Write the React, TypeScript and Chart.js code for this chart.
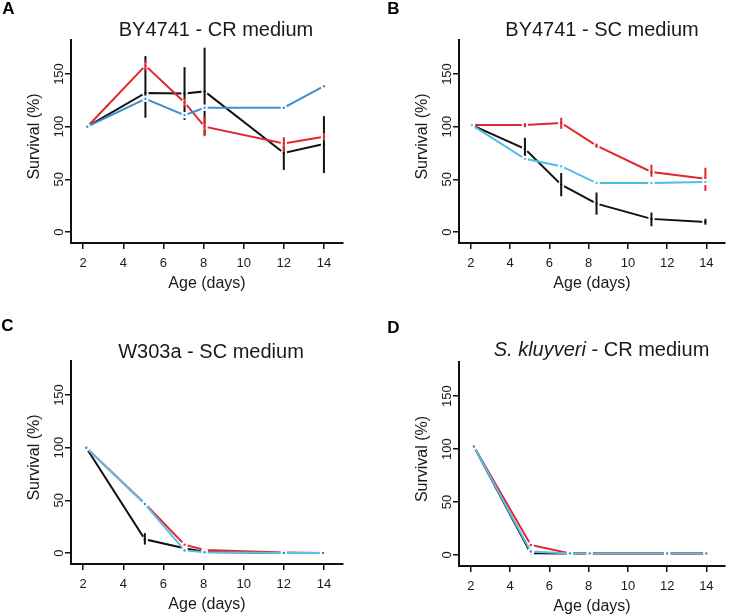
import React, { useEffect, useRef } from "react";
import { Chart, registerables } from "chart.js";

Chart.register(...registerables);

const FONT = '"Liberation Sans", Arial, Helvetica, sans-serif';
const TEXT = "#1a1a1a";
const AXIS = "#111111";

const xTickLabels = [2, 4, 6, 8, 10, 12, 14];
const yTickLabels = [0, 50, 100, 150];
const xTitle = "Age (days)";
const yTitle = "Survival (%)";

// Panel A - BY4741, CR medium
const ageA = [2.2, 5.1, 7.05, 8.05, 12, 14];
const redA = [100, 158, 123, 100, 84, 90.5];
const redLoA = [null, 153, 119, 91, 76, 87];
const redHiA = [null, 163, 127, 109.5, 90, 94];
const blackA = [100, 132, 131.5, 133.5, 75, 83.5];
const blackLoA = [null, 108.5, 106.5, 92, 59, 56];
const blackHiA = [null, 167, 156.5, 175, 87.5, 110];
const blueA = [100, 126.5, 111, 118, 118, 138.5];

// Panel B - BY4741, SC medium
const ageB = [2.05, 4.75, 6.6, 8.4, 11.2, 13.95];
const redB = [101.5, 101.5, 103.5, 82, 57, 50.5];
const redLoB = [null, 99.5, 98, 80, 52.5, 39];
const redHiB = [null, 103.5, 108.5, 84, 64, 61];
const blackB = [101.5, 79, 45, 27, 12.5, 9.5];
const blackLoB = [null, 68.5, 34, 16.5, 5.5, 7];
const blackHiB = [null, 89.5, 56, 37.5, 18.5, 12.5];
const blueB = [101.5, 69.5, 62.5, 46.5, 46.5, 47.5];

// Panel C - W303a, SC medium
const ageC = [2.15, 5.07, 7.05, 8.05, 12, 13.95];
const redC = [100, 47, 8, 3, 0.5, 0];
const blackC = [100, 13, 4.5, 1, 0, 0];
const blackLoC = [null, 8, null, null, null, null];
const blackHiC = [null, 19, null, null, null, null];
const blueC = [100, 46.5, 2.5, 0.8, 0, 0];

// Panel D - S. kluyveri, CR medium
const ageD = [2.15, 5.05, 7.05, 8.05, 12, 14];
const redD = [102.5, 9.5, 1.5, 1.5, 1.5, 1.5];
const blackD = [102.5, 1.6, 1.4, 1.5, 1.5, 1.5];
const blueD = [102.5, 3.3, 1.5, 1.5, 1.5, 1.5];

type Series = {
  y: number[];
  lo?: (number | null)[];
  hi?: (number | null)[];
  color: string;
  dot: string;
};

type PanelCfg = {
  left: number;
  top: number;
  w: number;
  h: number;
  area: { left: number; top: number; right: number; bottom: number };
  ages: number[];
  series: Series[]; // top-most first
  title: string;
  italic?: string;
  titleX: number;
  titleY: number;
  letter: string;
  letterX: number;
  letterY: number;
};

const RED = "#e1262d";
const BLACK = "#111111";
const BLUE_A = "#3d8fd0";
const BLUE_B = "#4dbde8";
const BLUE_CD = "#5bc0e8";
const BLUE_DOT = "#2d88c8";

const panels: PanelCfg[] = [
  {
    left: 0, top: 0, w: 365, h: 305,
    area: { left: 71, top: 40, right: 343, bottom: 243 },
    ages: ageA,
    series: [
      { y: blueA, color: BLUE_A, dot: BLUE_A },
      { y: redA, lo: redLoA, hi: redHiA, color: RED, dot: RED },
      { y: blackA, lo: blackLoA, hi: blackHiA, color: BLACK, dot: BLACK },
    ],
    title: "BY4741 - CR medium", titleX: 216, titleY: 30,
    letter: "A", letterX: 8.5, letterY: 9,
  },
  {
    left: 365, top: 0, w: 366, h: 305,
    area: { left: 94, top: 40, right: 366, bottom: 243 },
    ages: ageB,
    series: [
      { y: blueB, color: BLUE_B, dot: BLUE_B },
      { y: redB, lo: redLoB, hi: redHiB, color: RED, dot: RED },
      { y: blackB, lo: blackLoB, hi: blackHiB, color: BLACK, dot: BLACK },
    ],
    title: "BY4741 - SC medium", titleX: 237, titleY: 30,
    letter: "B", letterX: 28.5, letterY: 9,
  },
  {
    left: 0, top: 310, w: 365, h: 305,
    area: { left: 71, top: 51, right: 343, bottom: 254 },
    ages: ageC,
    series: [
      { y: blueC, color: BLUE_CD, dot: BLUE_DOT },
      { y: redC, color: RED, dot: RED },
      { y: blackC, lo: blackLoC, hi: blackHiC, color: BLACK, dot: BLACK },
    ],
    title: "W303a - SC medium", titleX: 211, titleY: 42,
    letter: "C", letterX: 7.5, letterY: 16.5,
  },
  {
    left: 365, top: 310, w: 366, h: 305,
    area: { left: 94, top: 52, right: 366, bottom: 256 },
    ages: ageD,
    series: [
      { y: blueD, color: BLUE_CD, dot: BLUE_DOT },
      { y: redD, color: RED, dot: RED },
      { y: blackD, color: BLACK, dot: BLACK },
    ],
    title: " - CR medium", italic: "S. kluyveri", titleX: 236.5, titleY: 40,
    letter: "D", letterX: 28.5, letterY: 18.5,
  },
];

function makeDecor(cfg: PanelCfg) {
  return {
    id: "panelDecor",
    afterDatasetDraw(chart: any, args: any) {
      const s = cfg.series[args.index];
      if (!s || !s.lo || !s.hi) return;
      const ctx = chart.ctx;
      const xs = chart.scales.x;
      const ys = chart.scales.y;
      ctx.save();
      ctx.strokeStyle = s.color;
      ctx.lineWidth = 2;
      ctx.lineCap = "butt";
      for (let i = 0; i < cfg.ages.length; i++) {
        const lo = s.lo[i];
        const hi = s.hi[i];
        if (lo == null || hi == null) continue;
        const px = xs.getPixelForValue(cfg.ages[i]);
        ctx.beginPath();
        ctx.moveTo(px, ys.getPixelForValue(lo));
        ctx.lineTo(px, ys.getPixelForValue(hi));
        ctx.stroke();
      }
      ctx.restore();
    },
    afterDraw(chart: any) {
      const ctx = chart.ctx;
      const a = chart.chartArea;
      const xs = chart.scales.x;
      const ys = chart.scales.y;
      ctx.save();
      ctx.fillStyle = TEXT;
      ctx.textBaseline = "middle";
      ctx.textAlign = "center";
      // x tick labels
      ctx.font = `13px ${FONT}`;
      xTickLabels.forEach((v) => {
        ctx.fillText(String(v), xs.getPixelForValue(v), a.bottom + 20);
      });
      // y tick labels (rotated)
      yTickLabels.forEach((v) => {
        ctx.save();
        ctx.translate(a.left - 12, ys.getPixelForValue(v));
        ctx.rotate(-Math.PI / 2);
        ctx.fillText(String(v), 0, 0);
        ctx.restore();
      });
      // axis titles
      ctx.font = `16px ${FONT}`;
      ctx.fillText(xTitle, (a.left + a.right) / 2, a.bottom + 41);
      ctx.save();
      ctx.translate(a.left - 36.5, (a.top + a.bottom) / 2 - 5);
      ctx.rotate(-Math.PI / 2);
      ctx.fillText(yTitle, 0, 0);
      ctx.restore();
      // title
      const tf = `20px ${FONT}`;
      const itf = `italic 20px ${FONT}`;
      if (cfg.italic) {
        ctx.font = itf;
        const w1 = ctx.measureText(cfg.italic).width;
        ctx.font = tf;
        const w2 = ctx.measureText(cfg.title).width;
        const x0 = cfg.titleX - (w1 + w2) / 2;
        ctx.textAlign = "left";
        ctx.font = itf;
        ctx.fillText(cfg.italic, x0, cfg.titleY);
        ctx.font = tf;
        ctx.fillText(cfg.title, x0 + w1, cfg.titleY);
        ctx.textAlign = "center";
      } else {
        ctx.font = tf;
        ctx.fillText(cfg.title, cfg.titleX, cfg.titleY);
      }
      // panel letter
      ctx.font = `bold 17px ${FONT}`;
      ctx.fillStyle = "#000";
      ctx.fillText(cfg.letter, cfg.letterX, cfg.letterY);
      ctx.restore();
    },
  };
}

function Panel({ cfg }: { cfg: PanelCfg }) {
  const ref = useRef<HTMLCanvasElement | null>(null);
  useEffect(() => {
    if (!ref.current) return;
    const chart = new Chart(ref.current, {
      type: "line",
      data: {
        datasets: cfg.series.map((s) => ({
          data: cfg.ages.map((x, i) => ({ x, y: s.y[i] })),
          borderColor: s.color,
          backgroundColor: s.dot,
          borderWidth: 2,
          pointRadius: 2.2,
          pointBorderWidth: 2,
          pointBorderColor: "#ffffff",
          pointBackgroundColor: s.dot,
          tension: 0,
          fill: false,
        })),
      },
      options: {
        animation: false,
        responsive: false,
        devicePixelRatio: 1,
        events: [],
        layout: {
          padding: {
            left: 0,
            top: cfg.area.top,
            right: cfg.w - cfg.area.right,
            bottom: 0,
          },
        },
        plugins: {
          legend: { display: false },
          title: { display: false },
          tooltip: { enabled: false },
        },
        scales: {
          x: {
            type: "linear",
            min: 1.39,
            max: 14.95,
            afterBuildTicks: (s: any) => {
              s.ticks = xTickLabels.map((v) => ({ value: v }));
            },
            afterFit: (s: any) => {
              s.height = cfg.h - cfg.area.bottom;
            },
            ticks: { display: false },
            grid: {
              drawOnChartArea: false,
              drawTicks: true,
              tickLength: 6,
              color: AXIS,
              lineWidth: 1.5,
            },
            border: { display: true, color: AXIS, width: 2 },
          },
          y: {
            type: "linear",
            min: -10.4,
            max: 182.3,
            afterBuildTicks: (s: any) => {
              s.ticks = yTickLabels.map((v) => ({ value: v }));
            },
            afterFit: (s: any) => {
              s.width = cfg.area.left;
            },
            ticks: { display: false },
            grid: {
              drawOnChartArea: false,
              drawTicks: true,
              tickLength: 6,
              color: AXIS,
              lineWidth: 1.5,
            },
            border: { display: true, color: AXIS, width: 2 },
          },
        },
      },
      plugins: [makeDecor(cfg)],
    } as any);
    return () => chart.destroy();
  }, [cfg]);
  return (
    <canvas
      ref={ref}
      width={cfg.w}
      height={cfg.h}
      style={{
        position: "absolute",
        left: cfg.left,
        top: cfg.top,
        width: cfg.w,
        height: cfg.h,
      }}
    />
  );
}

export default function App() {
  return (
    <div
      style={{
        position: "fixed",
        left: 0,
        top: 0,
        width: 731,
        height: 615,
        background: "#ffffff",
        overflow: "hidden",
      }}
    >
      {panels.map((p) => (
        <Panel key={p.letter} cfg={p} />
      ))}
    </div>
  );
}
